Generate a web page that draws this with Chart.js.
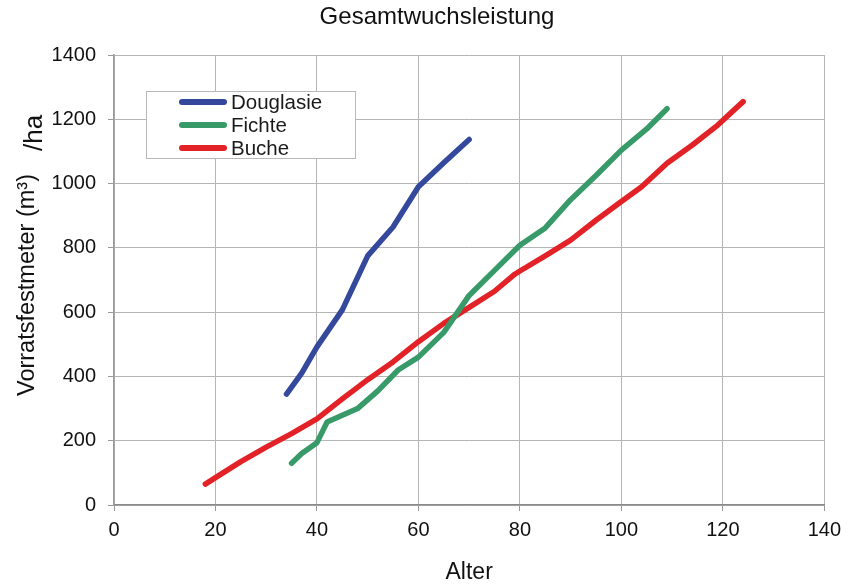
<!DOCTYPE html>
<html>
<head>
<meta charset="utf-8">
<script src="https://cdn.jsdelivr.net/npm/chart.js@4/dist/chart.umd.min.js"></script>
<style>
  html, body { margin: 0; padding: 0; background: #fff; }
  canvas { display: block; }
</style>
</head>
<body>
<canvas id="c" width="848" height="586"></canvas>
<script>
// ---- Data ----
const chartTitle = 'Gesamtwuchsleistung';
const xAxisTitle = 'Alter';
const yAxisTitleMain = 'Vorratsfestmeter (m³)';
const yAxisTitleUnit = '/ha';

const seriesNames = ['Douglasie', 'Fichte', 'Buche'];

const douglasieAlter  = [34, 37, 40, 45, 50, 55, 60, 65, 70];
const douglasieVorrat = [345, 410, 492, 607, 775, 865, 990, 1065, 1137];

const fichteAlter  = [35, 37, 40, 42, 48, 52, 56, 60, 65, 70, 75, 80, 85, 90, 95, 100, 105, 109];
const fichteVorrat = [130, 160, 194, 258, 300, 355, 420, 460, 537, 652, 730, 808, 862, 950, 1025, 1104, 1170, 1233];

const bucheAlter  = [18, 20, 25, 30, 35, 40, 45, 48, 50, 55, 60, 65, 70, 75, 79, 80, 85, 90, 95, 100, 104, 109, 114, 119, 124];
const bucheVorrat = [65, 85, 135, 180, 222, 268, 330, 366, 390, 445, 508, 565, 615, 665, 718, 728, 775, 824, 886, 944, 990, 1063, 1120, 1182, 1255];

const xTicks = [0, 20, 40, 60, 80, 100, 120, 140];
const yTicks = [0, 200, 400, 600, 800, 1000, 1200, 1400];

const seriesColors = ['#34499b', '#379a68', '#e32228'];

// ---- Build datasets ----
function pts(xs, ys) { return xs.map((x, i) => ({ x: x, y: ys[i] })); }
const allSeries = [
  pts(douglasieAlter, douglasieVorrat),
  pts(fichteAlter, fichteVorrat),
  pts(bucheAlter, bucheVorrat)
];

const FONT = '"Liberation Sans", Arial, sans-serif';

const decorPlugin = {
  id: 'decor',
  afterDraw(chart) {
    const ctx = chart.ctx;
    ctx.save();
    // Title
    ctx.fillStyle = '#111';
    ctx.font = '24px ' + FONT;
    ctx.textAlign = 'center';
    ctx.textBaseline = 'alphabetic';
    ctx.fillText(chartTitle, 437, 24);

    // Y axis title (rotated, two parts)
    ctx.save();
    ctx.translate(34, 396);
    ctx.rotate(-Math.PI / 2);
    ctx.textAlign = 'left';
    ctx.font = '23.5px ' + FONT;
    ctx.fillText(yAxisTitleMain, 0, 0);
    ctx.restore();
    ctx.save();
    ctx.translate(42, 151);
    ctx.rotate(-Math.PI / 2);
    ctx.textAlign = 'left';
    ctx.font = '26px ' + FONT;
    ctx.fillText(yAxisTitleUnit, 0, 0);
    ctx.restore();

    // Legend
    const bx = 146, by = 91, bw = 209, bh = 67;
    ctx.fillStyle = '#fff';
    ctx.fillRect(bx, by, bw, bh);
    ctx.strokeStyle = '#b8b8b8';
    ctx.lineWidth = 1;
    ctx.strokeRect(bx + 0.5, by + 0.5, bw, bh);
    const rows = [102, 125, 148];
    chart.data.datasets.forEach((ds, i) => {
      ctx.strokeStyle = ds.borderColor;
      ctx.lineWidth = 6;
      ctx.lineCap = 'round';
      ctx.beginPath();
      ctx.moveTo(182, rows[i]);
      ctx.lineTo(224, rows[i]);
      ctx.stroke();
      ctx.fillStyle = '#1a1a1a';
      ctx.font = '20.5px ' + FONT;
      ctx.textAlign = 'left';
      ctx.textBaseline = 'middle';
      ctx.fillText(ds.label, 231, rows[i] + 1);
    });
    ctx.restore();
  }
};

new Chart(document.getElementById('c'), {
  type: 'line',
  data: {
    datasets: allSeries.map((d, i) => ({
      label: seriesNames[i],
      data: d,
      borderColor: seriesColors[i],
      backgroundColor: seriesColors[i],
      borderWidth: 5.5,
      borderCapStyle: 'round',
      borderJoinStyle: 'round',
      pointRadius: 0,
      tension: 0,
      fill: false
    }))
  },
  options: {
    responsive: false,
    animation: false,
    devicePixelRatio: 1,
    layout: { padding: { top: 55, right: 22, left: 0, bottom: 0 } },
    plugins: {
      legend: { display: false },
      title: { display: false },
      tooltip: { enabled: false }
    },
    scales: {
      x: {
        type: 'linear',
        min: 0, max: 140,
        afterFit(scale) { scale.height = 81; },
        afterBuildTicks(scale) { scale.ticks = xTicks.map(v => ({ value: v })); },
        ticks: { font: { size: 20, family: FONT }, color: '#111', padding: 7, callback: v => String(v) },
        grid: { color: '#b5b5b5', lineWidth: 1, tickLength: 6, tickColor: '#999' },
        border: { color: '#8a8a8a', width: 1.5 },
        title: { display: true, text: xAxisTitle, font: { size: 23, family: FONT }, color: '#111', padding: { top: 0, bottom: 0 } }
      },
      y: {
        type: 'linear',
        min: 0, max: 1400,
        afterFit(scale) { scale.width = 114; },
        afterBuildTicks(scale) { scale.ticks = yTicks.map(v => ({ value: v })); },
        ticks: { font: { size: 20, family: FONT }, color: '#111', padding: 12, callback: v => String(v) },
        grid: { color: '#b5b5b5', lineWidth: 1, tickLength: 6, tickColor: '#999' },
        border: { color: '#999', width: 1.5 },
        title: { display: false }
      }
    }
  },
  plugins: [decorPlugin]
});
</script>
</body>
</html>
